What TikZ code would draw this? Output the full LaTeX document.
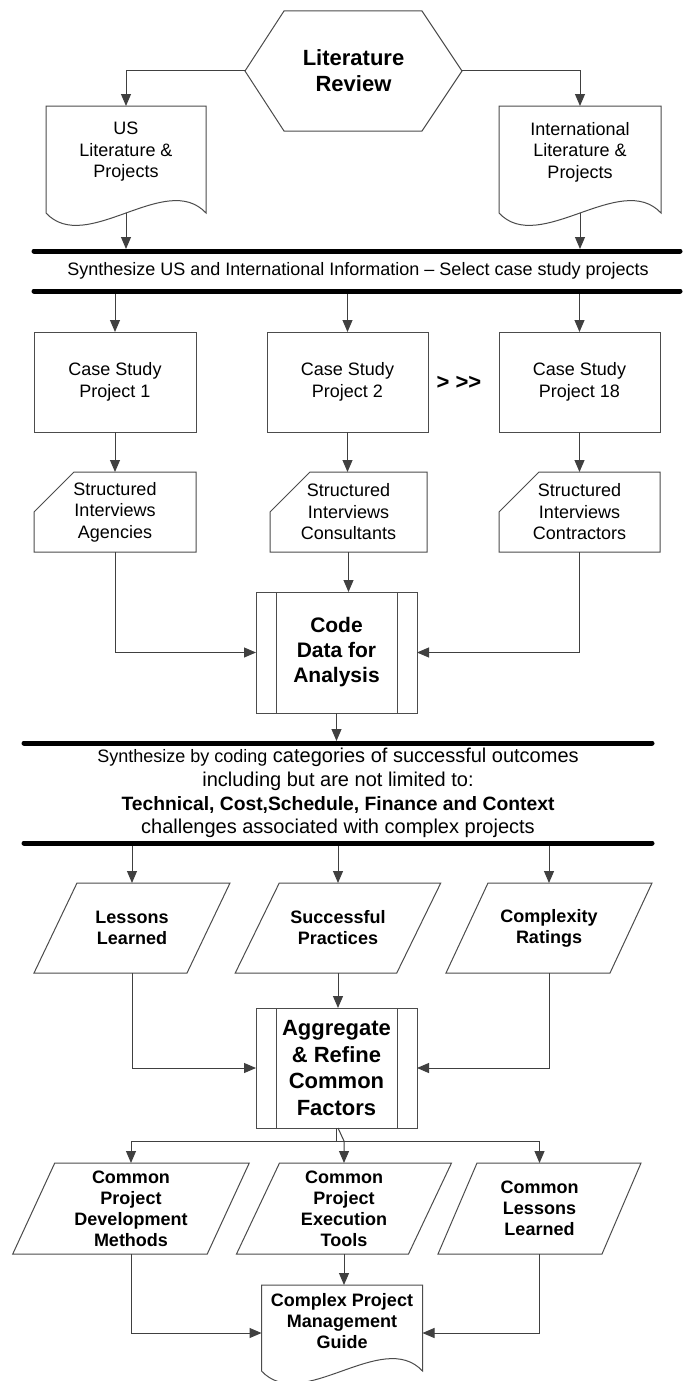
\documentclass[tikz,border=0pt]{standalone}
\usepackage{fontspec}
\setmainfont{Liberation Sans}
\usetikzlibrary{arrows.meta,calc}
\newcommand\fs[2]{\fontsize{#1}{#2}\selectfont}
\newcommand\docpath[1]{\draw[outline] (#1.south west) -- (#1.north west) -- (#1.north east) -- (#1.south east) .. controls ($(#1.south east)+(-40,-43)$) and ($(#1.south west)+(40,43)$) .. (#1.south west) -- cycle;}
\newcommand\cardpath[1]{\draw[outline] ($(#1.north west)+(40,0)$) -- (#1.north east) -- (#1.south east) -- (#1.south west) -- ($(#1.north west)+(0,40)$) -- cycle;}
\newcommand\parapath[2]{\draw[outline] ($(#1.north west)+(#2/2,0)$) -- ($(#1.north east)+(#2/2,0)$) -- ($(#1.south east)-(#2/2,0)$) -- ($(#1.south west)-(#2/2,0)$) -- cycle;}
\newcommand\sidelines[1]{\draw[outline] ($(#1.north west)+(20,0)$) -- ($(#1.south west)+(20,0)$); \draw[outline] ($(#1.north east)+(-20,0)$) -- ($(#1.south east)+(-20,0)$);}
\tikzset{
  base/.style={inner sep=0pt, outer sep=0pt, align=center, font=\fs{18}{21.5}},
  bbase/.style={base, font=\bfseries\fs{18}{21}},
  outline/.style={draw=black!70, line width=1pt},
  rbox/.style={base, outline},
  conn/.style={draw=black!75, line width=1pt},
  arr/.style={conn, -{Triangle[length=12pt,width=10pt]}},
  bar/.style={line width=5pt, line cap=round, draw=black}
}
\begin{document}
\begin{tikzpicture}[x=1pt,y=-1pt]
\fill[white] (0,0) rectangle (683,1381);
\useasboundingbox (0,0) rectangle (683,1381);

% hexagon
\node[base, minimum width=217, minimum height=120, font=\bfseries\fs{22}{26}] (lit) at (353.5,71) {Literature\\Review};
\draw[outline] (lit.west) -- ($(lit.north west)+(39,0)$) -- ($(lit.north east)+(-40,0)$) -- (lit.east) -- ($(lit.south east)+(-40,0)$) -- ($(lit.south west)+(39,0)$) -- cycle;

% documents
\node[base, minimum width=160, minimum height=107] (us) at (126,159.5) {};
\docpath{us}
\node[base] (ust) at (126,152) {US\\Literature \&\\Projects};
\node[base, minimum width=162, minimum height=107] (intl) at (580,159.5) {};
\docpath{intl}
\node[base] (intlt) at (580,152) {International\\Literature \&\\Projects};

% bars 1/2
\coordinate (b1L) at (34,251); \coordinate (b1R) at (680,251);
\coordinate (b2L) at (34,291); \coordinate (b2R) at (680,291);
\node[base] (syn1) at (358,271) {Synthesize US and International Information – Select case study projects};

% case study boxes
\node[rbox, minimum width=162, minimum height=100] (c1) at (115,382) {Case Study\\Project 1};
\node[rbox, minimum width=161, minimum height=100] (c2) at (347.5,382) {Case Study\\Project 2};
\node[rbox, minimum width=161, minimum height=100] (c3) at (579.5,382) {Case Study\\Project 18};
\node[base, font=\bfseries\fs{22}{26}] (more) at (459,383) {> >\kern0pt>};

% structured interviews
\node[base, minimum width=162, minimum height=80] (s1) at (115,512) {Structured\\Interviews\\Agencies};
\cardpath{s1}
\node[base, minimum width=157, minimum height=80] (s2) at (348.5,512) {Structured\\Interviews\\Consultants};
\cardpath{s2}
\node[base, minimum width=161, minimum height=80] (s3) at (579.5,512) {Structured\\Interviews\\Contractors};
\cardpath{s3}

% code
\node[rbox, minimum width=161, minimum height=121, font=\bfseries\fs{21}{25}] (code) at (336.5,652.5) {Code\\Data for\\Analysis};
\sidelines{code}

% bars 3/4
\coordinate (b3L) at (24,743); \coordinate (b3R) at (652,743);
\coordinate (b4L) at (24,843); \coordinate (b4R) at (652,843);
\node[base, font=\fs{20}{23.7}] (syn2) at (338,793) {{\fs{18}{23.7}Synthesize by coding} categories of successful outcomes\\including but are not limited to:\\{\bfseries\fs{19.3}{23.7}Technical, Cost,Schedule, Finance and Context}\\challenges associated with complex projects};

% row 1 parallelograms
\node[bbase, minimum width=153, minimum height=90] (p1) at (132,928) {Lessons\\Learned};
\parapath{p1}{43}
\node[bbase, minimum width=161.5, minimum height=90] (p2) at (338,928) {Successful\\Practices};
\parapath{p2}{44}
\node[bbase, minimum width=164, minimum height=90] (p3) at (549,928) {Complexity\\Ratings};
\parapath{p3}{42}

% aggregate
\node[rbox, minimum width=161, minimum height=120, font=\bfseries\fs{22}{26.4}] (agg) at (336.5,1068) {Aggregate\\\& Refine\\Common\\Factors};
\sidelines{agg}

% row 2 parallelograms
\node[bbase, minimum width=194.5, minimum height=91] (q1) at (131,1208.5) {Common\\Project\\Development\\Methods};
\parapath{q1}{42}
\node[bbase, minimum width=172, minimum height=91] (q2) at (344,1208.5) {Common\\Project\\Execution\\Tools};
\parapath{q2}{43}
\node[bbase, minimum width=164, minimum height=91] (q3) at (539.5,1208.5) {Common\\Lessons\\Learned};
\parapath{q3}{39}

% guide document
\node[base, minimum width=161, minimum height=86] (guide) at (342,1328) {};
\docpath{guide}
\node[bbase] (guidet) at (342,1321) {Complex Project\\Management\\Guide};

% connectors
\draw[arr] (lit.west) -| (us.north);
\draw[arr] (lit.east) -| (intl.north);
\draw[arr, shorten >=2pt] (us.south) -- (us.south |- b1L);
\draw[arr, shorten >=2pt] (intl.south) -- (intl.south |- b1L);
\draw[arr] (c1.north |- b2L) -- (c1.north);
\draw[arr] (c2.north |- b2L) -- (c2.north);
\draw[arr] (c3.north |- b2L) -- (c3.north);
\draw[arr] (c1.south) -- (s1.north);
\draw[arr] (c2.south) -- (c2.south |- s2.north);
\draw[arr] (c3.south) -- (s3.north);
\draw[arr] (s1.south) |- (code.west);
\draw[arr] (s2.south) -- (s2.south |- code.north);
\draw[arr] (s3.south) |- (code.east);
\draw[arr, shorten >=2pt] (code.south) -- (code.south |- b3L);
\draw[arr] (p1.north |- b4L) -- (p1.north);
\draw[arr] (p2.north |- b4L) -- (p2.north);
\draw[arr] (p3.north |- b4L) -- (p3.north);
\draw[arr] (p1.south) |- (agg.west);
\draw[arr] (p2.south) -- (p2.south |- agg.north);
\draw[arr] (p3.south) |- (agg.east);
\coordinate (brY) at (0,1141);
\draw[conn] (agg.south) -- (agg.south |- brY);
\draw[conn] (q1.north |- brY) -- (q3.north |- brY);
\draw[arr] (q1.north |- brY) -- (q1.north);
\draw[arr] (q3.north |- brY) -- (q3.north);
\draw[arr] ($(agg.south)+(1.5,0)$) -- (q2.north |- brY) -- (q2.north);
\draw[arr] (q1.south) |- ($(guide.west)+(0,5)$);
\draw[arr] (q2.south) -- (q2.south |- guide.north);
\draw[arr] (q3.south) |- ($(guide.east)+(0,5)$);

% bars
\draw[bar] (b1L) -- (b1R);
\draw[bar] (b2L) -- (b2R);
\draw[bar] (b3L) -- (b3R);
\draw[bar] (b4L) -- (b4R);
\end{tikzpicture}
\end{document}
